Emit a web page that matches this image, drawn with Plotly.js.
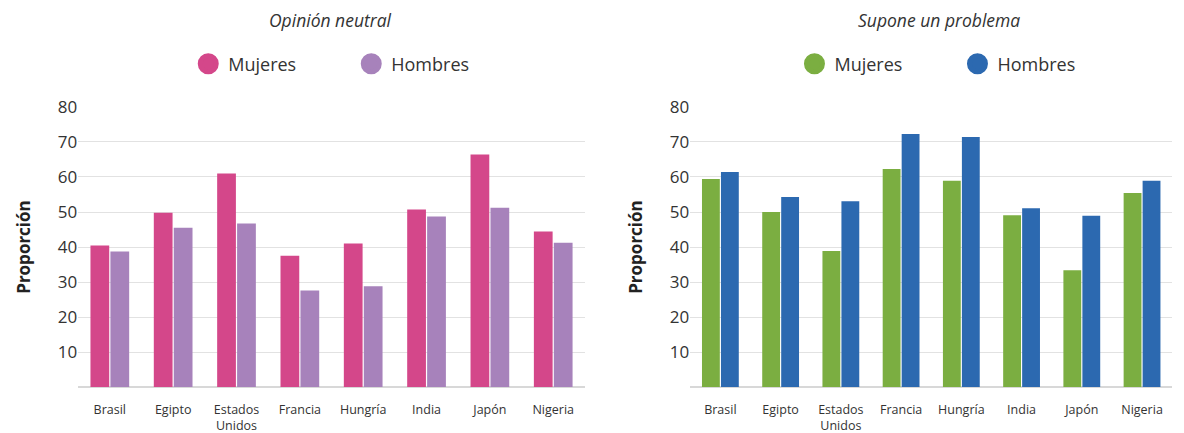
<!DOCTYPE html>
<html><head><meta charset="utf-8">
<script src="https://cdn.plot.ly/plotly-3.0.1.min.js"></script>
<style>html,body{margin:0;padding:0;background:#fff}#chart{width:1184px;height:433px}</style>
</head><body><div id="chart"></div>
<script>
const countries = ["Brasil","Egipto","Estados<br>Unidos","Francia","Hungría","India","Japón","Nigeria"];
const neutralMujeres = [40.4,49.8,61.0,37.5,41.0,50.7,66.4,44.4];
const neutralHombres = [38.7,45.5,46.7,27.6,28.8,48.7,51.2,41.2];
const problemaMujeres = [59.4,50.0,38.9,62.3,58.9,49.1,33.4,55.4];
const problemaHombres = [61.4,54.3,53.1,72.3,71.4,51.1,48.9,58.9];
const yTicks = [10,20,30,40,50,60,70,80];

const pink="#D4478A", lav="#A782BB", green="#7BAE41", blue="#2C69B0";
const font="'Open Sans', 'Noto Sans', sans-serif";

function bar(y,color,xa,ya){return {type:"bar",x:countries,y:y,marker:{color:color},xaxis:xa,yaxis:ya,showlegend:false,hoverinfo:"x+y"};}
function leg(name,color,lg){return {type:"scatter",mode:"markers",x:[null],y:[null],name:name,marker:{color:color,size:24,symbol:"circle",line:{color:color,width:5}},legend:lg,xaxis:"x",yaxis:"y"};}

const data=[
 bar(neutralMujeres,pink,"x","y"), bar(neutralHombres,lav,"x","y"),
 bar(problemaMujeres,green,"x2","y2"), bar(problemaHombres,blue,"x2","y2"),
 leg("Mujeres",pink,"legend"), leg("Hombres",lav,"legend"),
 leg("Mujeres",green,"legend2"), leg("Hombres",blue,"legend2")
];
const yax = ()=>({domain:[0.106,0.753],range:[0,80],tickvals:yTicks,showgrid:true,gridcolor:"#e2e2e2",gridwidth:1,
  zeroline:true,zerolinecolor:"#d8d8d8",zerolinewidth:2,showline:false,tickfont:{size:17,color:"#333"},
  title:{text:"<b>Proporción</b>",font:{size:17,color:"#222"},standoff:22},fixedrange:true});
const xax = (dom)=>({domain:dom,type:"category",showgrid:false,zeroline:false,showline:false,tickfont:{size:12.5,color:"#333"},ticks:"",ticklabelstandoff:13,fixedrange:true});
const legStyle = (x)=>({orientation:"h",x:x,xanchor:"left",y:0.852,yanchor:"middle",font:{size:18,color:"#333"},entrywidth:118,entrywidthmode:"pixels",bgcolor:"rgba(0,0,0,0)"});
const layout={
 width:1184,height:433,margin:{l:0,r:0,t:0,b:0},paper_bgcolor:"#fff",plot_bgcolor:"#fff",
 font:{family:font,color:"#333"},barmode:"group",bargap:0.37,bargroupgap:0.06,
 xaxis:xax([0.066,0.494]), yaxis:Object.assign(yax(),{anchor:"x"}),
 xaxis2:Object.assign(xax([0.583,0.99]),{anchor:"y2"}), yaxis2:Object.assign(yax(),{anchor:"x2"}),
 legend:legStyle(0.159),
 legend2:legStyle(0.671),
 annotations:[
  {text:"<i>Opinión neutral</i>",xref:"paper",yref:"paper",x:0.279,xanchor:"center",y:(433-20)/433,yanchor:"middle",showarrow:false,font:{size:17.5,color:"#333"}},
  {text:"<i>Supone un problema</i>",xref:"paper",yref:"paper",x:0.793,xanchor:"center",y:(433-20)/433,yanchor:"middle",showarrow:false,font:{size:17.5,color:"#333"}}
 ]
};
Plotly.newPlot("chart",data,layout,{displayModeBar:false,staticPlot:true});
</script></body></html>
